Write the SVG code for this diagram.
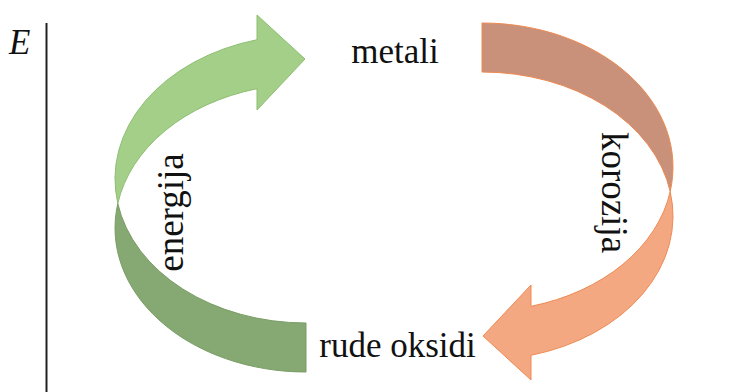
<svg xmlns="http://www.w3.org/2000/svg" width="734" height="392" viewBox="0 0 734 392">
<style>
.lbl{font-family:"Liberation Serif","Times New Roman",serif;fill:#111;}
.front-g{fill:#A3CF89;stroke:#8DBE72;stroke-width:1;}
.back-g{fill:#86A873;stroke:#7A9E66;stroke-width:1;}
.front-o{fill:#F4A882;stroke:#EE8A52;stroke-width:1;}
.back-o{fill:#C9917A;stroke:#EE8A52;stroke-width:1;}
</style>
<defs>
<path id="front" d="M117.8,203.5 A191,144 0 0 1 257,39.7 L257,15 L305,59 L257,110 L257,88.7 A191,144 0 0 0 117.8,203.5 Z"/>
<path id="back" d="M117.8,203.5 A191,144 0 0 0 306,372 L306,323 A191,144 0 0 1 117.8,203.5 Z"/>
</defs>
<rect width="734" height="392" fill="#fff"/>
<g id="axis">
<line x1="46.5" y1="23" x2="46.5" y2="392" stroke="#222" stroke-width="2"/>
<text class="lbl" x="9" y="54" font-size="35" font-style="italic">E</text>
</g>
<g id="connectors">
<g id="energija-arrow">
<use href="#back" class="back-g"/>
<use href="#front" class="front-g"/>
</g>
<g id="korozija-arrow" transform="rotate(180 394 197.5)">
<use href="#back" class="back-o"/>
<use href="#front" class="front-o"/>
</g>
</g>
<g id="metali"><text class="lbl" x="395" y="63" font-size="35" text-anchor="middle">metali</text></g>
<g id="rude-oksidi"><text class="lbl" x="397.5" y="357" font-size="35" text-anchor="middle">rude oksidi</text></g>
<g id="energija-label"><text class="lbl" x="183" y="212.5" font-size="37" text-anchor="middle" transform="rotate(-90 183 212.5)">energija</text></g>
<g id="korozija-label"><text class="lbl" x="602" y="192.5" font-size="37" text-anchor="middle" transform="rotate(90 602 192.5)">korozija</text></g>
</svg>
